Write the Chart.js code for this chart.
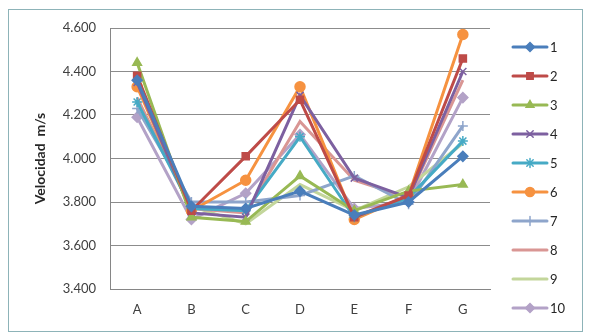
<!DOCTYPE html>
<html>
<head>
<meta charset="utf-8">
<script src="https://cdn.jsdelivr.net/npm/chart.js@4/dist/chart.umd.min.js"></script>
<style>
    body { margin: 0; background: #fff; }
    #wrap { position: relative; width: 589px; height: 336px; }
    #frame { position: absolute; left: 8px; top: 9px; width: 573px; height: 321px;
             border: 1px solid #8db3b8; pointer-events: none; }
</style>
</head>
<body>
<div id="wrap">
    <canvas id="canvasVel" width="589" height="336"></canvas>
    <div id="frame"></div>
</div>
<script>
var categories = ['A', 'B', 'C', 'D', 'E', 'F', 'G'];
var seriesNames = ['1', '2', '3', '4', '5', '6', '7', '8', '9', '10'];
var s1 = [4.36, 3.78, 3.77, 3.85, 3.74, 3.80, 4.01];
var s2 = [4.38, 3.76, 4.01, 4.27, 3.73, 3.83, 4.46];
var s3 = [4.44, 3.73, 3.71, 3.92, 3.76, 3.85, 3.88];
var s4 = [4.35, 3.75, 3.73, 4.29, 3.91, 3.82, 4.40];
var s5 = [4.26, 3.77, 3.76, 4.10, 3.73, 3.82, 4.08];
var s6 = [4.33, 3.76, 3.90, 4.33, 3.72, 3.83, 4.57];
var s7 = [4.23, 3.80, 3.80, 3.83, 3.92, 3.79, 4.15];
var s8 = [4.28, 3.77, 3.75, 4.17, 3.90, 3.82, 4.36];
var s9 = [4.27, 3.78, 3.70, 3.88, 3.76, 3.87, 4.07];
var s10 = [4.19, 3.72, 3.84, 4.11, 3.77, 3.80, 4.28];
var yTicks = [3.4, 3.6, 3.8, 4.0, 4.2, 4.4, 4.6];

var colors = ['#4a7ebb', '#be4b48', '#98b954', '#7d60a0', '#46aac5',
              '#f69240', '#8ea5cb', '#d99694', '#c3d69b', '#b3a2c7'];
var markers = ['rectRot', 'rect', 'triangle', 'crossRot', 'star',
               'circle', 'cross', 'line', 'line', 'rectRot'];
var allSeries = [s1, s2, s3, s4, s5, s6, s7, s8, s9, s10];
var fontName = 'Lato, "Open Sans", sans-serif';

// the legend is drawn by hand: the built-in one wraps into two columns here
var sideLegend = {
    id: 'sideLegend',
    afterDraw: function (chart) {
        var g = chart.ctx;
        var x0 = chart.chartArea.right + 23;
        g.save();
        g.font = '13px ' + fontName;
        g.textBaseline = 'middle';
        g.fillStyle = '#262626';
        chart.data.datasets.forEach(function (d, i) {
            var y = 47 + i * 29;
            g.strokeStyle = colors[i];
            g.fillStyle = colors[i];
            g.lineWidth = 3;
            g.lineCap = 'round';
            g.beginPath(); g.moveTo(x0, y); g.lineTo(x0 + 34, y); g.stroke();
            if (markers[i] != 'line') {
                g.lineWidth = 1.5;
                Chart.helpers.drawPoint(g, { pointStyle: markers[i], radius: 4.5, borderWidth: 1.5 }, x0 + 17, y);
            }
            g.fillStyle = '#262626';
            g.fillText(d.label, x0 + 37, y + 1);
        });
        g.restore();
    }
};

var datasets = allSeries.map(function (vals, i) {
    return {
        label: seriesNames[i],
        data: vals,
        borderColor: colors[i],
        backgroundColor: colors[i],
        borderWidth: 3,
        pointStyle: markers[i] == 'line' ? false : markers[i],
        pointRadius: 5,
        pointBorderWidth: 1.5,
        tension: 0
    };
});

var ctx = document.getElementById('canvasVel').getContext('2d');
var chartVel = new Chart(ctx, {
    type: 'line',
    data: { labels: categories, datasets: datasets },
    options: {
        animation: false,
        responsive: false,
        layout: { padding: { left: 10, top: 28, right: 99, bottom: 12 } },
        scales: {
            x: {
                offset: true,
                grid: { display: false, drawTicks: false },
                border: { color: '#868686', width: 1 },
                ticks: { color: '#404040', padding: 13, font: { family: fontName, size: 13 } },
                afterFit: function (s) { s.height = 35; }
            },
            y: {
                min: 3.4, max: 4.6,
                afterBuildTicks: function (s) { s.ticks = yTicks.map(function (v) { return { value: v }; }); },
                grid: { color: '#8c8c8c', lineWidth: 1, drawTicks: false },
                border: { color: '#868686', width: 1 },
                ticks: {
                    color: '#404040', padding: 14,
                    font: { family: fontName, size: 13 },
                    callback: function (v) { return v.toFixed(3); }
                },
                title: {
                    display: true, text: 'Velocidad  m/s', color: '#262626',
                    font: { family: fontName, size: 14, weight: 'bold' },
                    padding: { top: 22, bottom: 0 }
                },
                afterFit: function (s) { s.width = 100; }
            }
        },
        plugins: {
            legend: { display: false },
            tooltip: { enabled: false }
        }
    },
    plugins: [sideLegend]
});
</script>
</body>
</html>
